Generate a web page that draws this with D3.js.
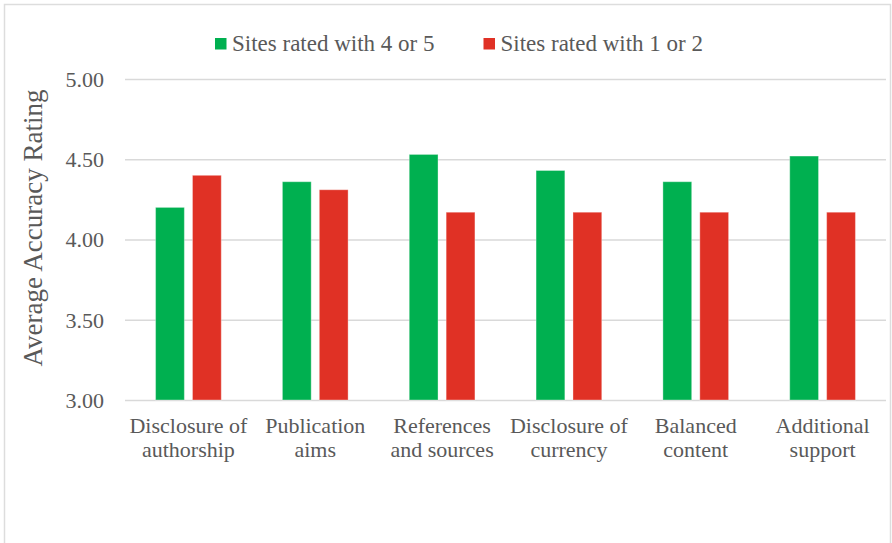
<!DOCTYPE html>
<html>
<head>
<meta charset="utf-8">
<script src="https://cdn.jsdelivr.net/npm/d3@7"></script>
<style>
  html, body { margin: 0; padding: 0; background: #fff; }
  svg { display: block; font-family: "Liberation Serif", "Times New Roman", serif; }
</style>
</head>
<body>
<svg id="chart" width="892" height="543"></svg>
<script>
// Categories and the two series of average ratings
const categories = [
  ["Disclosure of", "authorship"],
  ["Publication", "aims"],
  ["References", "and sources"],
  ["Disclosure of", "currency"],
  ["Balanced", "content"],
  ["Additional", "support"]
];
const seriesNames = ["Sites rated with 4 or 5", "Sites rated with 1 or 2"];
const highRated = [4.20, 4.36, 4.53, 4.43, 4.36, 4.52];
const lowRated  = [4.40, 4.31, 4.17, 4.17, 4.17, 4.17];
const yTicks = [3.00, 3.50, 4.00, 4.50, 5.00];
const yTitle = "Average Accuracy Rating";
const colors = ["#00B050", "#E03125"];

const svg = d3.select("#chart");
const W = 892, H = 543;
const plot = { left: 125, right: 886, top: 79, bottom: 400 };
const textColor = "#595959";
const gridColor = "#D9D9D9";
const serif = "'Liberation Serif', 'Times New Roman', serif";

// Outer frame
svg.append("rect")
  .attr("x", 4.5).attr("y", 4.5)
  .attr("width", W - 6).attr("height", H - 3)
  .attr("fill", "#fff")
  .attr("stroke", "#DDDDDD").attr("stroke-width", 1.5);

const keys = categories.map(c => c.join(" "));
const x0 = d3.scaleBand().domain(keys)
  .range([plot.left, plot.right])
  .paddingInner(0.482).paddingOuter(0.241);
const x1 = d3.scaleBand().domain(seriesNames)
  .range([0, x0.bandwidth()])
  .paddingInner(0.22);
const y = d3.scaleLinear().domain([3, 5]).range([plot.bottom, plot.top]);

// Horizontal gridlines with value labels
const yAxis = d3.axisLeft(y)
  .tickValues(yTicks)
  .tickFormat(d3.format(".2f"))
  .tickSize(-(plot.right - plot.left))
  .tickPadding(21);
const gy = svg.append("g")
  .attr("transform", `translate(${plot.left},0)`)
  .call(yAxis)
  .attr("font-family", serif);
gy.select(".domain").remove();
gy.selectAll(".tick line").attr("stroke", gridColor).attr("stroke-width", 1.5);
gy.selectAll(".tick text")
  .attr("fill", textColor)
  .style("font-family", serif)
  .style("font-size", "22px")
  .attr("dy", "0.33em");

// Bars
const rows = keys.map((k, i) => ({ key: k, values: [highRated[i], lowRated[i]] }));
const groups = svg.append("g").selectAll("g")
  .data(rows).join("g")
  .attr("transform", d => `translate(${x0(d.key)},0)`);
groups.selectAll("rect")
  .data(d => d.values.map((v, j) => ({ name: seriesNames[j], v, j })))
  .join("rect")
  .attr("x", d => x1(d.name))
  .attr("width", x1.bandwidth())
  .attr("y", d => y(d.v))
  .attr("height", d => y(3) - y(d.v))
  .attr("fill", d => colors[d.j])
  .attr("stroke", "rgba(255,255,255,0.35)")
  .attr("stroke-width", 1);

// Category labels (two lines)
const xl = svg.append("g");
categories.forEach((lines, i) => {
  const cx = x0(keys[i]) + x0.bandwidth() / 2;
  const t = xl.append("text")
    .attr("x", cx).attr("y", 433)
    .attr("text-anchor", "middle")
    .attr("fill", textColor)
    .style("font-family", serif)
    .style("font-size", "22px");
  lines.forEach((ln, k) => {
    t.append("tspan").attr("x", cx).attr("y", 433 + k * 24).text(ln);
  });
});

// Y-axis title
svg.append("text")
  .attr("transform", "translate(42,228) rotate(-90)")
  .attr("text-anchor", "middle")
  .attr("fill", textColor)
  .style("font-family", serif)
  .style("font-size", "27px")
  .text(yTitle);

// Legend
const legendX = [215, 483.5];
const lg = svg.append("g");
seriesNames.forEach((name, i) => {
  lg.append("rect")
    .attr("x", legendX[i]).attr("y", 38)
    .attr("width", 11.5).attr("height", 11.5)
    .attr("fill", colors[i]);
  lg.append("text")
    .attr("x", legendX[i] + 17).attr("y", 51)
    .attr("fill", textColor)
    .style("font-family", serif)
    .style("font-size", "23px")
    .text(name);
});
</script>
</body>
</html>
